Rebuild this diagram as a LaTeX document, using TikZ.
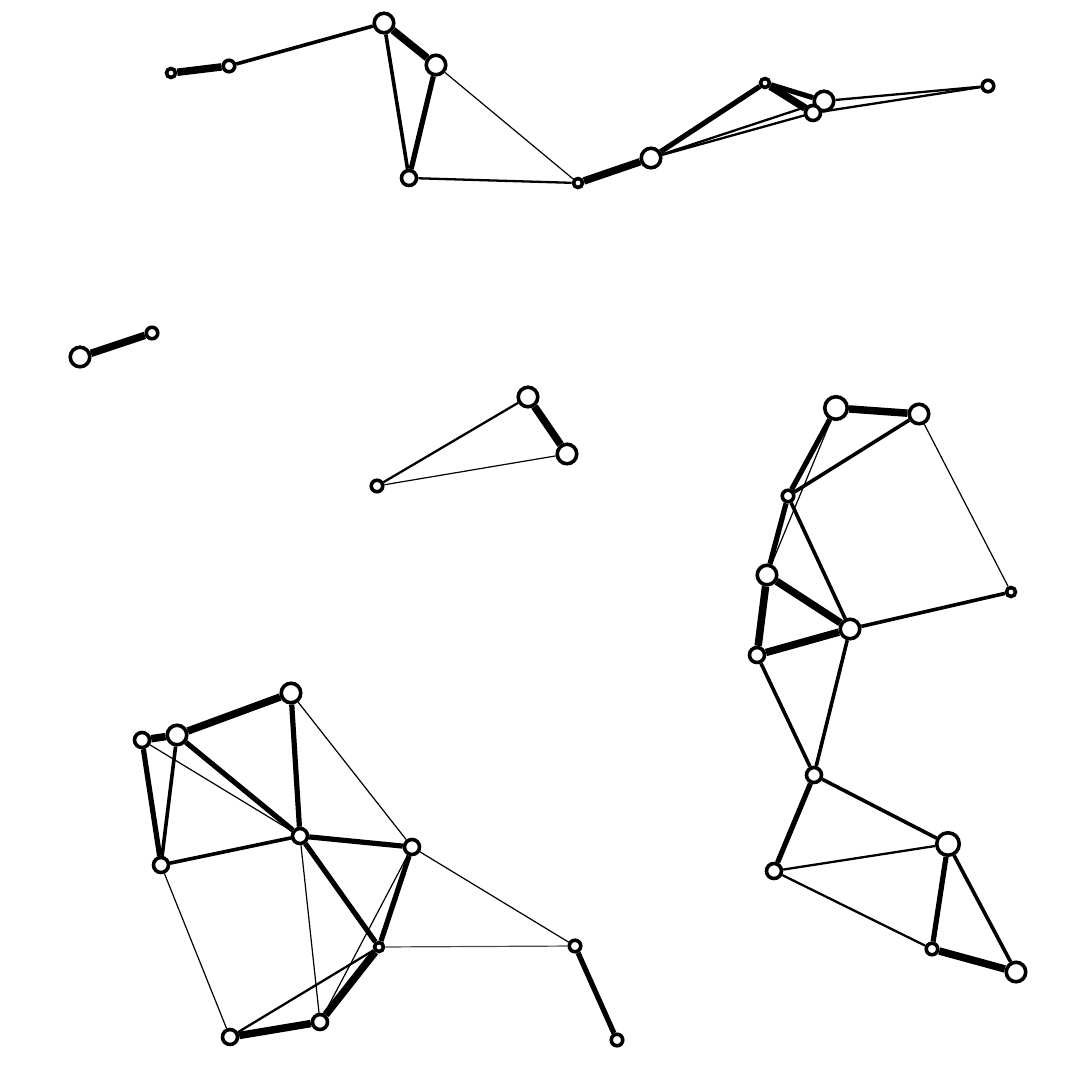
\documentclass[tikz,border=0pt]{standalone}
\usepackage{tikz}
\usetikzlibrary{arrows.meta}
\tikzset{
  vtx/.style={circle, draw=black, fill=white, line width=3.6pt, inner sep=0pt},
  vxs/.style={vtx, minimum size=9pt},
  vs/.style={vtx, minimum size=11.5pt},
  vm/.style={vtx, minimum size=15pt},
  vl/.style={vtx, minimum size=19.5pt},
  vxl/.style={vtx, minimum size=22.5pt},
  ea/.style={line width=1.2pt},
  eb/.style={line width=2.3pt},
  ec/.style={line width=3.6pt},
  ed/.style={line width=5.2pt},
  ee/.style={line width=7.5pt}
}
\begin{document}
\begin{tikzpicture}[x=1pt,y=-1pt]
        \useasboundingbox (0,0) rectangle (1080,1080);
        % Top component
        \node[vxs] (a1) at (171, 73) {};
        \node[vs]  (a2) at (229, 66) {};
        \node[vl]  (a3) at (384, 23) {};
        \node[vl]  (a4) at (436, 65) {};
        \node[vm]  (a5) at (409, 178) {};
        \node[vxs] (a6) at (578, 183) {};
        \node[vl]  (a7) at (651, 158) {};
        \node[vxs] (a8) at (765, 83) {};
        \node[vl]  (a9) at (824, 101) {};
        \node[vm]  (a10) at (813, 113) {};
        \node[vs]  (a11) at (988, 86) {};
        % Pair
        \node[vl]  (b1) at (80, 357) {};
        \node[vs]  (b2) at (152, 333) {};
        % Triangle
        \node[vl]  (c1) at (528, 397) {};
        \node[vl]  (c2) at (567, 454) {};
        \node[vs]  (c3) at (377, 486) {};
        % Right component
        \node[vxl] (d1) at (836, 408) {};
        \node[vl]  (d2) at (919, 414) {};
        \node[vs]  (d3) at (788, 496) {};
        \node[vl]  (d4) at (767, 575) {};
        \node[vxs] (d5) at (1011, 592) {};
        \node[vl]  (d6) at (850, 629) {};
        \node[vm]  (d7) at (757, 655) {};
        \node[vm]  (d8) at (814, 775) {};
        \node[vxl] (d9) at (948, 844) {};
        \node[vm]  (d10) at (774, 871) {};
        \node[vs]  (d11) at (932, 949) {};
        \node[vl]  (d12) at (1016, 972) {};
        % Bottom left component
        \node[vm]  (e1) at (142, 740) {};
        \node[vl]  (e2) at (177, 735) {};
        \node[vl]  (e3) at (291, 693) {};
        \node[vm]  (e4) at (300, 836) {};
        \node[vm]  (e5) at (161, 865) {};
        \node[vm]  (e6) at (412, 847) {};
        \node[vxs] (e7) at (379, 947) {};
        \node[vs]  (e8) at (575, 946) {};
        \node[vs]  (e9) at (617, 1040) {};
        \node[vm]  (e10) at (230, 1037) {};
        \node[vm]  (e11) at (320, 1022) {};
        %
        % Edges:
      \draw[ee] (a1) -- (a2);
      \draw[ec] (a2) -- (a3);
      \draw[ee] (a3) -- (a4);
      \draw[ec] (a3) -- (a5);
      \draw[ed] (a4) -- (a5);
      \draw[ea] (a4) -- (a6);
      \draw[eb] (a5) -- (a6);
      \draw[ee] (a6) -- (a7);
      \draw[ed] (a7) -- (a8);
      \draw[eb] (a7) -- (a9);
      \draw[eb] (a7) -- (a10);
      \draw[ed] (a8) -- (a9);
      \draw[ee] (a8) -- (a10);
      \draw[eb] (a9) -- (a11);
      \draw[eb] (a10) -- (a11);
      \draw[ee] (b1) -- (b2);
      \draw[ee] (c1) -- (c2);
      \draw[eb] (c1) -- (c3);
      \draw[ea] (c2) -- (c3);
      \draw[ee] (d1) -- (d2);
      \draw[ed] (d1) -- (d3);
      \draw[ea] (d1) -- (d4);
      \draw[ec] (d2) -- (d3);
      \draw[ea] (d2) -- (d5);
      \draw[ed] (d3) -- (d4);
      \draw[ec] (d3) -- (d6);
      \draw[ee] (d4) -- (d6);
      \draw[ee] (d4) -- (d7);
      \draw[ee] (d7) -- (d6);
      \draw[ec] (d5) -- (d6);
      \draw[ec] (d7) -- (d8);
      \draw[ec] (d6) -- (d8);
      \draw[ed] (d8) -- (d10);
      \draw[ec] (d8) -- (d9);
      \draw[eb] (d10) -- (d9);
      \draw[eb] (d10) -- (d11);
      \draw[ed] (d9) -- (d11);
      \draw[ec] (d9) -- (d12);
      \draw[ee] (d11) -- (d12);
      \draw[ee] (e1) -- (e2);
      \draw[ee] (e2) -- (e3);
      \draw[ed] (e1) -- (e5);
      \draw[ec] (e2) -- (e5);
      \draw[ea] (e1) -- (e4);
      \draw[ed] (e2) -- (e4);
      \draw[ed] (e3) -- (e4);
      \draw[ea] (e3) -- (e6);
      \draw[ec] (e5) -- (e4);
      \draw[ed] (e4) -- (e6);
      \draw[ed] (e4) -- (e7);
      \draw[ea] (e4) -- (e11);
      \draw[ea] (e5) -- (e10);
      \draw[ed] (e6) -- (e7);
      \draw[ea] (e6) -- (e11);
      \draw[ea] (e6) -- (e8);
      \draw[ea, black!70] (e7) -- (e8);
      \draw[eb] (e7) -- (e10);
      \draw[ee] (e7) -- (e11);
      \draw[ee] (e10) -- (e11);
      \draw[ed] (e8) -- (e9);
        \end{tikzpicture}
\end{document}
